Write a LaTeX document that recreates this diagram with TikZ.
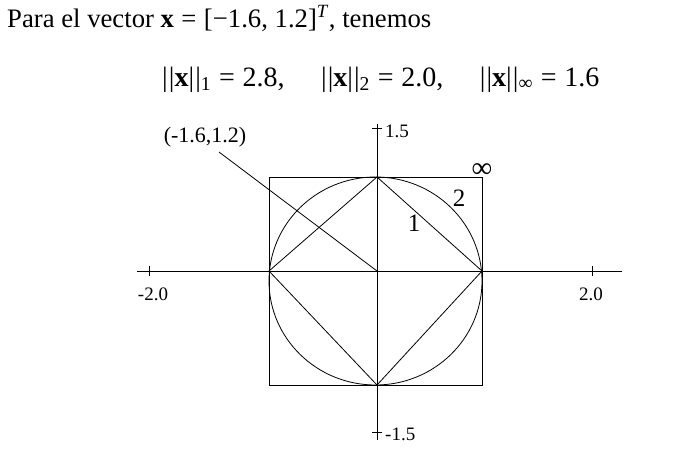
\documentclass[tikz,border=0pt]{standalone}
\usepackage{fontspec}
\setmainfont{Liberation Serif}
\newcommand{\myeq}{\hspace{0.28em}=\hspace{0.28em}}
\newcommand{\nbar}{|\kern0.04em|}
\begin{document}
\begin{tikzpicture}[x=1pt,y=-1pt,
  ln/.style={line width=0.8pt,black},
  axlab/.style={font=\fontsize{19}{21}\selectfont,inner sep=0pt},
  normlab/.style={font=\fontsize{25}{28}\selectfont,inner sep=0pt},
  bigtext/.style={font=\fontsize{26.7}{30}\selectfont,inner sep=0pt,anchor=base west}]
\useasboundingbox (0,0) rectangle (680,458);
% texts
\node[bigtext] (title) at (7,27) {Para el vector \textbf{x}\myeq[−1.6, 1.2]\textsuperscript{\textit{T}}, tenemos};
\node[bigtext,font=\fontsize{28}{30}\selectfont] (formula) at (162,86) {\nbar\textbf{x}\nbar\textsubscript{1}\myeq 2.8,\hspace{1.3em}\nbar\textbf{x}\nbar\textsubscript{2}\myeq 2.0,\hspace{1.3em}\nbar\textbf{x}\nbar\textsubscript{∞}\myeq 1.6};
% coordinates
\coordinate (O) at (377,271);
\coordinate (xl) at (137,271);
\coordinate (xr) at (622,271);
\coordinate (yt) at (377,124);
\coordinate (yb) at (377,440);
\coordinate (sq1) at (269,177);
\coordinate (sq2) at (482,385);
\coordinate (dt) at (377,177);
\coordinate (dr) at (482,271);
\coordinate (db) at (377,385);
\coordinate (dl) at (269,271);
\coordinate (P) at (219,152);
% axes
\draw[ln] (xl) -- (xr);
\draw[ln] (yt) -- (yb);
% ticks
\coordinate (tx1) at (149,271);
\coordinate (tx2) at (592,271);
\coordinate (ty1) at (377,128);
\coordinate (ty2) at (377,432);
\draw[ln] ([yshift=-5pt]tx1) -- ([yshift=5pt]tx1);
\draw[ln] ([yshift=-5pt]tx2) -- ([yshift=5pt]tx2);
\draw[ln] ([xshift=-5pt]ty1) -- ([xshift=5pt]ty1);
\draw[ln] ([xshift=-5pt]ty2) -- ([xshift=5pt]ty2);
\node[axlab] (lxm) at (153,294) {-2.0};
\node[axlab] (lxp) at (591,294) {2.0};
\node[axlab,anchor=west] (lyp) at (385,131) {1.5};
\node[axlab,anchor=west] (lym) at (385,434) {-1.5};
% square, diamond, circle
\draw[ln] (sq1) rectangle (sq2);
\draw[ln] (dt) -- (dr) -- (db) -- (dl) -- cycle;
\draw[ln] (375.5,281) ellipse [x radius=106.5, y radius=104];
% vector line
\draw[ln] (P) -- (O);
\node[font=\fontsize{22}{24}\selectfont,inner sep=0pt] (plab) at (205,137) {(-1.6,1.2)};
% norm labels
\node[normlab] (l1) at (414,223) {1};
\node[normlab] (l2) at (459,198) {2};
\node[font=\fontsize{29}{30}\selectfont,inner sep=0pt] (linf) at (482,171) {∞};
\end{tikzpicture}
\end{document}
